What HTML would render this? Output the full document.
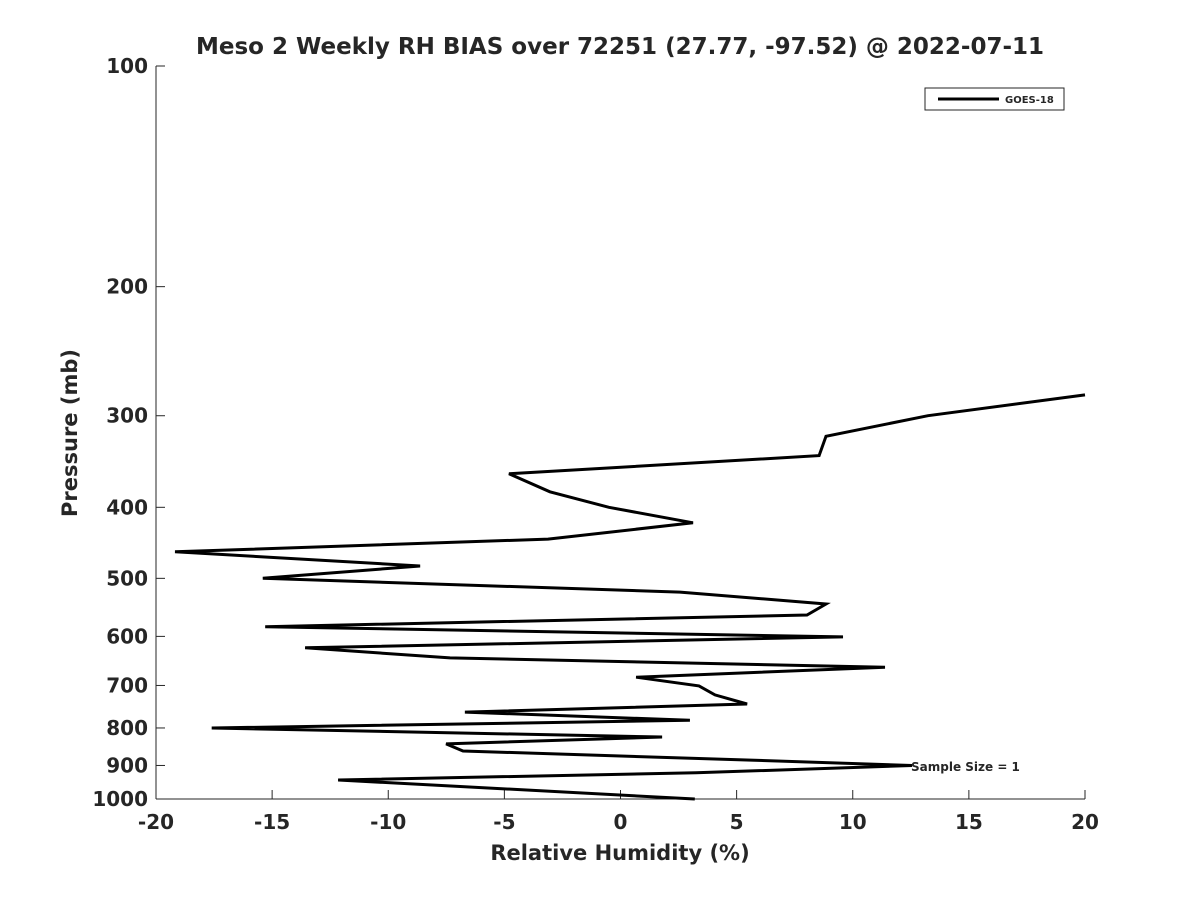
<!DOCTYPE html>
<html><head><meta charset="utf-8"><style>
body{margin:0;background:#fff;}
svg text{font-family:"DejaVu Sans","Liberation Sans",sans-serif;font-weight:bold;fill:#262626;}
</style></head><body>
<svg id="chart" width="1200" height="900" xmlns="http://www.w3.org/2000/svg">
<rect width="1200" height="900" fill="#fff"/>
<text x="620" y="54" font-size="23" text-anchor="middle">Meso 2 Weekly RH BIAS over 72251 (27.77, -97.52) @ 2022-07-11</text>
<g id="axes"></g>
<path id="series" fill="none" stroke="#000" stroke-width="3" stroke-linejoin="miter"/>
<text x="620" y="860" font-size="21" text-anchor="middle">Relative Humidity (%)</text>
<text transform="translate(77,433) rotate(-90)" font-size="21" text-anchor="middle">Pressure (mb)</text>
<text x="911" y="771" font-size="12">Sample Size = 1</text>
<g>
<rect x="925" y="88" width="139" height="22" fill="#fff" stroke="#262626" stroke-width="1"/>
<line x1="938" y1="99" x2="999" y2="99" stroke="#000" stroke-width="3"/>
<text x="1005" y="103" font-size="10">GOES-18</text>
</g>
</svg>
<script>
const rhValues=[20,13.24,8.85,8.55,-4.8,-3.04,-0.5,3.12,-3.12,-19.18,-8.63,-15.4,2.56,8.85,8.03,-15.3,9.58,-13.58,-7.34,11.39,0.67,3.38,4.07,5.45,-6.7,2.99,-17.6,1.79,-7.51,-6.78,5.6,12.55,3.25,-12.16,3.2];
const pressures=[281,300,320,340,360,381,400,420,442,460,481,500,522,542,561,582,601,622,642,661,682,701,721,742,761,781,800,823,841,860,885,900,921,942,1000];
const xTicks=[-20,-15,-10,-5,0,5,10,15,20];
const yTicks=[100,200,300,400,500,600,700,800,900,1000];
const L=156,R=1085,T=66,B=799;
const xs=v=>L+(v+20)/40*(R-L);
const ys=p=>T+Math.log10(p/100)*(B-T);
const NS='http://www.w3.org/2000/svg';
const ax=document.getElementById('axes');
function mk(t,a){const e=document.createElementNS(NS,t);for(const k in a)e.setAttribute(k,a[k]);ax.appendChild(e);return e;}
let e=mk('line',{x1:L,y1:T,x2:L,y2:B,stroke:'#262626','stroke-width':1});


e=mk('line',{x1:L,y1:B,x2:R,y2:B,stroke:'#262626','stroke-width':1});


xTicks.forEach(v=>{const x=xs(v);
 let t=mk('line',{x1:x,y1:B,x2:x,y2:B-9,stroke:'#262626'});
 
 
 let l=mk('text',{x:x,y:B+30,'font-size':20,'text-anchor':'middle'});l.textContent=v;
 
 
});
yTicks.forEach(p=>{const y=ys(p);
 let t=mk('line',{x1:L,y1:y,x2:L+9,y2:y,stroke:'#262626'});
 
 
 let l=mk('text',{x:L-8,y:y+7,'font-size':20,'text-anchor':'end'});l.textContent=p;
 
 
});
document.getElementById('series').setAttribute('d',rhValues.map((v,i)=>(i?'L':'M')+xs(v).toFixed(1)+','+ys(pressures[i]).toFixed(1)).join(''));
</script>
</body></html>
